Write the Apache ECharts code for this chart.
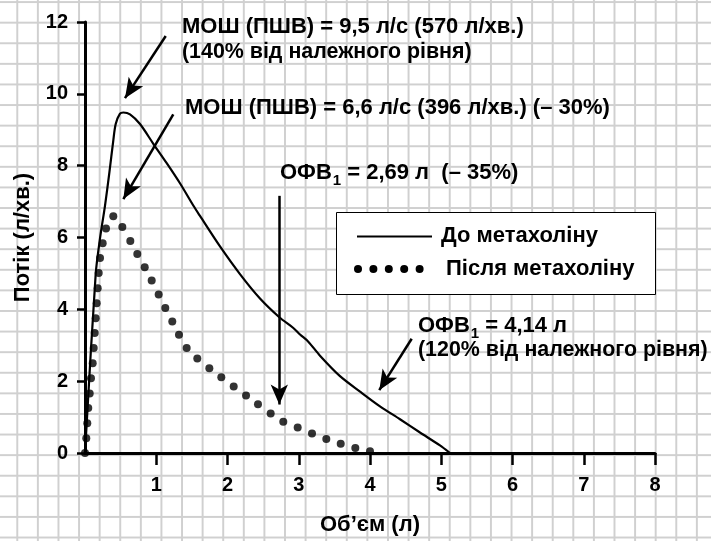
<!DOCTYPE html>
<html>
<head>
<meta charset="utf-8">
<script src="https://cdn.jsdelivr.net/npm/echarts@6/dist/echarts.min.js"></script>
<style>
  html, body { margin:0; padding:0; background:#fff; }
  #chart {
    width:711px; height:541px;
    background-color:#fff;
    background-image:
      linear-gradient(to right, #d0d0d0 2px, transparent 2px),
      linear-gradient(to bottom, #d0d0d0 2px, transparent 2px);
    background-size: 20.6px 20.6px;
    background-position: 16.3px 1.1px;
  }
</style>
</head>
<body>
<div id="chart"></div>
<script>
// Volume (L) and flow values
const beforeVolume = [0, 0.150, 0.211, 0.281, 0.341, 0.397, 0.431, 0.491, 0.538, 0.632, 0.772, 0.959, 1.147, 1.333, 1.520, 1.614, 1.895, 2.175, 2.456, 2.727, 2.924, 3.018, 3.134, 3.298, 3.579, 3.860, 4.140, 4.421, 4.702, 4.982, 5.123];
const beforeFlow   = [0, 4.98, 5.98, 6.89, 7.79, 8.70, 9.16, 9.45, 9.48, 9.43, 9.16, 8.61, 8.07, 7.51, 6.89, 6.60, 5.75, 4.98, 4.30, 3.78, 3.48, 3.30, 3.10, 2.71, 2.14, 1.71, 1.30, 0.94, 0.57, 0.21, 0];

const afterVolume = [0, 0.018, 0.032, 0.046, 0.066, 0.084, 0.108, 0.122, 0.136, 0.150, 0.164, 0.178, 0.192, 0.211, 0.248, 0.295, 0.397, 0.524, 0.636, 0.734, 0.838, 0.936, 1.034, 1.127, 1.225, 1.319, 1.427, 1.576, 1.745, 1.913, 2.087, 2.260, 2.428, 2.606, 2.783, 2.985, 3.186, 3.387, 3.589, 3.794, 4.0];
const afterFlow   = [0, 0.41, 0.83, 1.25, 1.66, 2.08, 2.50, 2.92, 3.34, 3.75, 4.17, 4.59, 5.01, 5.43, 5.84, 6.25, 6.59, 6.29, 5.90, 5.54, 5.17, 4.80, 4.41, 4.04, 3.66, 3.29, 2.92, 2.63, 2.36, 2.11, 1.85, 1.60, 1.36, 1.10, 0.87, 0.71, 0.54, 0.39, 0.26, 0.14, 0.05];

const xTicks = [1, 2, 3, 4, 5, 6, 7, 8];
const seriesNames = ['До метахоліну', 'Після метахоліну'];
const xAxisName = 'Об\u2019єм (л)';
const yAxisName = 'Потік (л/хв.)';

// annotation arrows: [fromVolume, fromFlow, toVolume, toFlow]
const arrows = [
  [1.133, 11.61, 0.561, 9.88],
  [1.239, 9.43, 0.538, 7.07],
  [2.727, 7.16, 2.727, 1.35],
  [4.585, 3.18, 4.13, 1.75]
];

const FONT = '"Liberation Sans", Arial, sans-serif';
const chart = echarts.init(document.getElementById('chart'), null, {renderer:'canvas'});

const txt = {fontFamily: FONT, fontSize: 22, fontWeight: 'bold', fill: '#000'};
function T(x, y, s, extra) {
  return {type:'text', left:x, top:y, silent:true, style: Object.assign({text:s, textVerticalAlign:'top'}, txt, extra||{})};
}
const sub = {
  a: {fontFamily: FONT, fontSize: 22, fontWeight: 'bold', color:'#000', lineHeight: 25, verticalAlign:'bottom'},
  s: {fontFamily: FONT, fontSize: 15, fontWeight: 'bold', color:'#000', lineHeight: 15, verticalAlign:'bottom', padding:[0,0,-4,1]}
};

const legendDots = [];
for (let i = 0; i < 5; i++) {
  legendDots.push({type:'circle', shape:{cx: 358 + i*15.4, cy: 269, r: 4}, style:{fill:'#000'}, silent:true});
}

chart.setOption({
  animation:false,
  grid:{left:85, right:56, top:22, bottom:78.3, containLabel:false},
  xAxis:{
    type:'value', min:0, max:8, interval:1,
    name: xAxisName, nameLocation:'middle', nameGap:61,
    nameTextStyle:{fontFamily:FONT, fontSize:22, fontWeight:'bold', color:'#000'},
    axisLine:{show:true, onZero:false, lineStyle:{color:'#000', width:3}},
    axisTick:{show:true, length:12, customValues: xTicks, lineStyle:{color:'#000', width:2.5}},
    axisLabel:{customValues: xTicks, fontFamily:FONT, fontSize:20, fontWeight:'bold', color:'#000', margin:22},
    splitLine:{show:false}
  },
  yAxis:{
    type:'value', min:0, max:12, interval:2,
    name: yAxisName, nameLocation:'middle', nameGap:51, nameRotate:90,
    nameTextStyle:{fontFamily:FONT, fontSize:22, fontWeight:'bold', color:'#000'},
    axisLine:{show:true, lineStyle:{color:'#000', width:3}},
    axisTick:{show:true, length:8, lineStyle:{color:'#000', width:2.5}},
    axisLabel:{fontFamily:FONT, fontSize:20, fontWeight:'bold', color:'#000', margin:17},
    splitLine:{show:false}
  },
  series:[
    {
      name: seriesNames[0], type:'line', smooth:0.3, showSymbol:false, silent:true,
      data: beforeVolume.map((v,i)=>[v, beforeFlow[i]]),
      lineStyle:{color:'#000', width:2.2},
      markLine:{
        silent:true, symbol:['none','arrow'], symbolSize:[13,20],
        label:{show:false},
        lineStyle:{color:'#000', width:2.5, type:'solid'},
        data: arrows.map(a=>[{coord:[a[0],a[1]]},{coord:[a[2],a[3]]}])
      }
    },
    {
      name: seriesNames[1], type:'scatter', symbol:'circle', symbolSize:8, silent:true,
      data: afterVolume.map((v,i)=>[v, afterFlow[i]]),
      itemStyle:{color:'#000'}
    }
  ],
  graphic:[
    T(182, 16, 'МОШ (ПШВ) = 9,5 л/с (570 л/хв.)'),
    T(182, 42, '(140% від належного рівня)', {fontSize:21.4}),
    T(185, 97, 'МОШ (ПШВ) = 6,6 л/с (396 л/хв.) (– 30%)'),
    {type:'text', left:280, top:162, silent:true, style:{text:'{a|ОФВ}{s|1}{a| = 2,69 л  (– 35%)}', rich:sub}},
    {type:'text', left:418, top:315, silent:true, style:{text:'{a|ОФВ}{s|1}{a| = 4,14 л}', rich:sub}},
    T(418, 340, '(120% від належного рівня)', {fontSize:21.4}),
    {type:'rect', shape:{x:336.5, y:212.5, width:319, height:82}, style:{fill:'#fff', stroke:'#000', lineWidth:1}, silent:true},
    {type:'line', shape:{x1:357, y1:236.5, x2:432, y2:236.5}, style:{stroke:'#000', lineWidth:2}, silent:true},
    T(441, 225, seriesNames[0]),
    T(446, 258, seriesNames[1])
  ].concat(legendDots)
});
</script>
</body>
</html>
